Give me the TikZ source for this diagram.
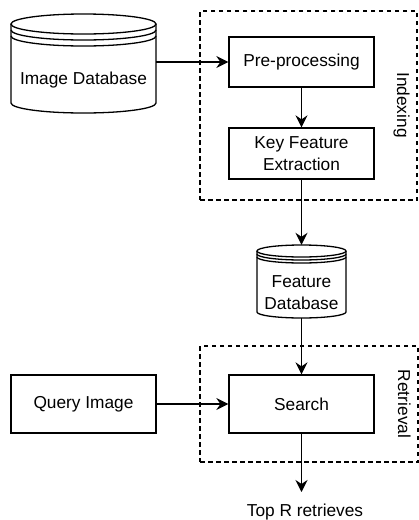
\documentclass[tikz,border=0pt]{standalone}
\usepackage{fontspec}
\setmainfont{Liberation Sans}
\usetikzlibrary{arrows.meta}
\begin{document}
\begin{tikzpicture}[x=1pt,y=-1pt,
  every node/.style={font=\fontsize{17.3}{21.5}\selectfont},
  box/.style={draw, line width=1.3pt, inner sep=0pt},
  ghost/.style={inner sep=0pt},
  grp/.style={draw, line width=1.1pt, dash pattern=on 4.5pt off 3.5pt, inner sep=0pt},
  cyl/.style={line width=1.3pt},
  arr/.style={line width=1.4pt, -{Stealth[length=12pt,width=12pt,inset=4pt]}},
  lbl/.style={align=center, inner sep=0pt}]
\useasboundingbox (0,0) rectangle (419,520);
% group boxes
\node[grp, minimum width=217pt, minimum height=189pt] (idx) at (308.5,105.5) {};
\node[grp, minimum width=218pt, minimum height=116pt] (ret) at (309,404) {};
\node[lbl, rotate=-90, anchor=base] (idxl) at (397,105) {Indexing};
\node[lbl, rotate=-90, anchor=base] (retl) at (398,404) {Retrieval};
% image database cylinder
\draw[cyl, fill=white] (11,24) -- (11,103) arc[start angle=180,end angle=0,x radius=72.5,y radius=10] -- (156,24);
\draw[cyl] (83.5,24) ellipse[x radius=72.5, y radius=10];
\draw[cyl] (11,30) arc[start angle=180,end angle=0,x radius=72.5,y radius=10];
\draw[cyl] (11,36) arc[start angle=180,end angle=0,x radius=72.5,y radius=10];
\node[ghost, minimum width=145pt, minimum height=99pt] (imgdb) at (83.5,63.5) {};
\node[lbl] (imgdbl) at (83.5,80) {Image Database};
% feature database cylinder
\draw[cyl, fill=white] (257,251) -- (257,312) arc[start angle=180,end angle=0,x radius=44.5,y radius=6] -- (346,251);
\draw[cyl] (301.5,251) ellipse[x radius=44.5, y radius=6];
\draw[cyl] (257,254) arc[start angle=180,end angle=0,x radius=44.5,y radius=6];
\draw[cyl] (257,257) arc[start angle=180,end angle=0,x radius=44.5,y radius=6];
\node[ghost, minimum width=89pt, minimum height=73pt] (fdb) at (301.5,281.5) {};
\node[lbl] (fdbl) at (301.5,292.5) {Feature\\Database};
% process boxes
\node[box, minimum width=145pt, minimum height=50pt] (pre) at (301.5,62) {Pre-processing};
\node[box, minimum width=145pt, minimum height=51pt, align=center] (key) at (301.5,153.5) {Key Feature\\Extraction};
\node[box, minimum width=145pt, minimum height=58pt] (search) at (301.5,404) {Search};
\node[box, minimum width=145pt, minimum height=58pt] (query) at (83.5,404) {Query Image};
\node[lbl, anchor=base] (top) at (305,516) {Top R retrieves};
\coordinate (tip) at (301.5,492);
% connectors
\draw[arr] (pre.west -| imgdb.east) -- (pre.west);
\draw[arr] (pre.south) -- (key.north);
\draw[arr] (key.south) -- (fdb.north);
\draw[arr] (fdb.south) -- (search.north);
\draw[arr] (query.east) -- (search.west);
\draw[arr] (search.south) -- (tip);
\end{tikzpicture}
\end{document}
